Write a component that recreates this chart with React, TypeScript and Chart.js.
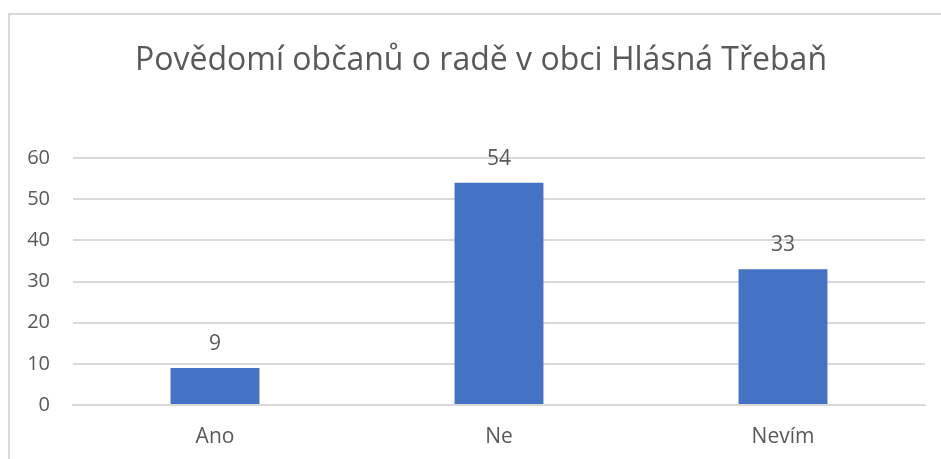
import React, { useEffect, useRef } from "react";
import { Chart, registerables } from "chart.js";

Chart.register(...registerables);

const titleText = "Povědomí občanů o radě v obci Hlásná Třebaň";
const categories = ["Ano", "Ne", "Nevím"];
const values = [9, 54, 33];
const yTicks = [0, 10, 20, 30, 40, 50, 60];

const FONT = "'Open Sans', 'Noto Sans', sans-serif";
const TEXT = "#595959";
const GRID = "#d9d9d9";

export default function App() {
  const ref = useRef<HTMLCanvasElement | null>(null);
  useEffect(() => {
    if (!ref.current) return;
    const titlePlugin = {
      id: "customTitle",
      afterDraw(chart: any) {
        const ctx = chart.ctx;
        ctx.save();
        ctx.font = `32px ${FONT}`;
        ctx.fillStyle = TEXT;
        ctx.textAlign = "center";
        ctx.textBaseline = "middle";
        ctx.fillText(titleText, 481, 61);
        ctx.restore();
      },
    };
    const labelPlugin = {
      id: "dataLabels",
      afterDatasetsDraw(chart: any) {
        const ctx = chart.ctx;
        const meta = chart.getDatasetMeta(0);
        ctx.save();
        ctx.font = `21px ${FONT}`;
        ctx.fillStyle = TEXT;
        ctx.textAlign = "center";
        ctx.textBaseline = "middle";
        meta.data.forEach((bar: any, i: number) => {
          ctx.fillText(String(values[i]), bar.x, bar.y - 24);
        });
        ctx.restore();
      },
    };
    const chart = new Chart(ref.current, {
      type: "bar",
      data: {
        labels: categories,
        datasets: [
          {
            data: values,
            backgroundColor: "#4472C4",
            categoryPercentage: 1,
            barPercentage: 0.313,
          },
        ],
      },
      options: {
        animation: false,
        responsive: false,
        maintainAspectRatio: false,
        layout: { padding: { top: 158, right: 16, left: 0, bottom: 0 } },
        plugins: { legend: { display: false }, tooltip: { enabled: false }, title: { display: false } },
        scales: {
          x: {
            grid: { display: false, drawTicks: false },
            border: { color: GRID, width: 2 },
            ticks: { color: TEXT, font: { family: FONT, size: 21 }, padding: 19 },
            afterFit: (s: any) => {
              s.height = 54;
            },
          },
          y: {
            min: 0,
            max: 60,
            afterBuildTicks: (s: any) => {
              s.ticks = yTicks.map((v) => ({ value: v }));
            },
            grid: { color: GRID, lineWidth: 2, drawTicks: false },
            border: { display: false },
            ticks: { color: TEXT, font: { family: FONT, size: 20 }, padding: 23 },
            afterFit: (s: any) => {
              s.width = 73;
            },
          },
        },
      },
      plugins: [titlePlugin, labelPlugin],
    });
    return () => chart.destroy();
  }, []);
  return (
    <div style={{ position: "absolute", left: 0, top: 0, width: 941, height: 459, background: "#fff", overflow: "hidden" }}>
      <div
        style={{
          position: "absolute",
          left: 8,
          top: 13,
          width: 960,
          height: 480,
          borderLeft: `2px solid ${GRID}`,
          borderTop: `2px solid ${GRID}`,
          boxSizing: "border-box",
        }}
      />
      <canvas ref={ref} width={941} height={459} style={{ position: "absolute", left: 0, top: 0 }} />
    </div>
  );
}
